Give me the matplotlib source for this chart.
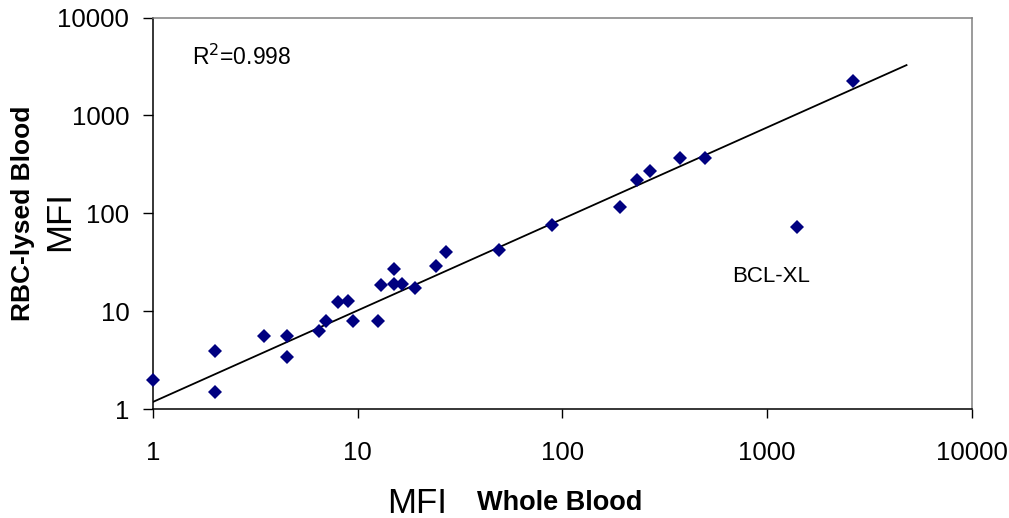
import matplotlib
matplotlib.use("Agg")
import matplotlib.pyplot as plt

plt.rcParams['font.family'] = ['Liberation Sans', 'DejaVu Sans']

# Whole blood MFI (x) vs RBC-lysed blood MFI (y)
whole_blood = [1, 2, 2, 3.5, 4.5, 4.5, 6.5, 7, 8, 9, 9.5, 12.5, 13, 15, 15,
               16.5, 19, 24, 27, 49, 89, 190, 230, 267, 373, 495, 1390, 2620]
rbc_lysed = [2.0, 3.9, 1.5, 5.6, 5.6, 3.4, 6.3, 8.0, 12.4, 12.8, 8.0, 8.0, 18.5, 27, 19,
             19, 17.5, 29, 40, 42, 76, 117, 218, 270, 369, 369, 72, 2260]

# Power trend line endpoints (as drawn)
trend_x = [1, 4790]
trend_y = [1.19, 3266]

ticks = [1, 10, 100, 1000, 10000]
tick_labels = ["1", "10", "100", "1000", "10000"]

fig = plt.figure(figsize=(10.09, 5.18), dpi=100)
ax = fig.add_axes([0.1516, 0.2098, 0.8117, 0.7564])

ax.plot(trend_x, trend_y, color='black', linewidth=1.3, zorder=2)
ax.plot(whole_blood, rbc_lysed, linestyle='none', marker='D', markersize=7,
        color='#000080', markeredgewidth=0, zorder=3, clip_on=False)

ax.set_xscale('log')
ax.set_yscale('log')
ax.set_xlim(1, 10000)
ax.set_ylim(1, 10000)
ax.set_xticks(ticks)
ax.set_xticklabels(tick_labels)
ax.set_yticks(ticks)
ax.set_yticklabels(tick_labels)
ax.minorticks_off()

ax.tick_params(axis='x', direction='out', length=6.5, width=1, pad=16, labelsize=18.5, colors='black')
ax.tick_params(axis='y', direction='out', length=7, width=1, pad=10, labelsize=18.5, colors='black')

for s in ['left', 'bottom']:
    ax.spines[s].set_color('black')
    ax.spines[s].set_linewidth(1.1)
for s in ['top', 'right']:
    ax.spines[s].set_color('#808080')
    ax.spines[s].set_linewidth(1.1)

ax.text(191.7 / 1009, (518 - 65) / 518, r'R$^2$=0.998', transform=fig.transFigure,
        fontsize=16.5, ha='left', va='baseline')
ax.text(732 / 1009, (518 - 282.5) / 518, 'BCL-XL', transform=fig.transFigure,
        fontsize=16, ha='left', va='baseline')

fig.text(23 / 1009, (518 - 213) / 518, 'RBC-lysed Blood', rotation=90, fontsize=19,
         fontweight='bold', ha='center', va='center')
fig.text(60 / 1009, (518 - 221) / 518, 'MFI', rotation=90, fontsize=25,
         ha='center', va='center')
fig.text(417 / 1009, (518 - 513) / 518, 'MFI', fontsize=25, ha='center', va='baseline')
fig.text(477 / 1009, (518 - 510) / 518, 'Whole Blood', fontsize=19.5, fontweight='bold',
         ha='left', va='baseline')

fig.savefig('out.png', dpi=100, facecolor='white')
